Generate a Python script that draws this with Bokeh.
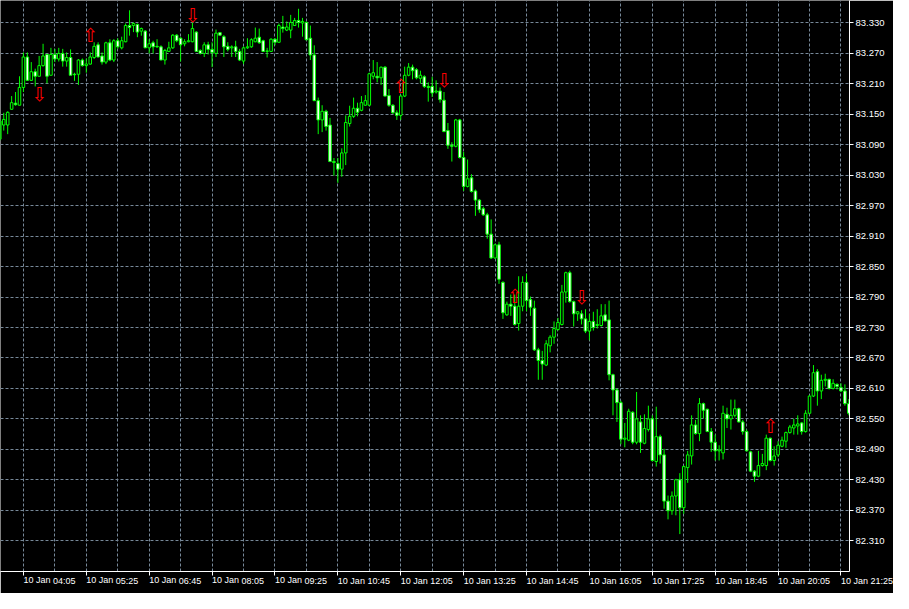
from bokeh.plotting import figure
from bokeh.models import Range1d, FixedTicker, ColumnDataSource, PrintfTickFormatter
from bokeh.core.properties import value
from bokeh.embed import file_html
from bokeh.resources import INLINE

# ---------------- data (5-minute bars, 10 Jan, first bar 03:35) ----------------
first_bar = "03:35"
bar_minutes = 5

opens = [83.101, 83.129, 83.129, 83.160, 83.172, 83.168,
         83.203, 83.263, 83.217, 83.234, 83.225, 83.246, 83.268, 83.227, 83.268, 83.259,
         83.270, 83.255, 83.262, 83.229, 83.229, 83.257, 83.246, 83.249, 83.262, 83.287,
         83.265, 83.253, 83.291, 83.257, 83.295, 83.281, 83.293, 83.325, 83.325, 83.327,
         83.314, 83.314, 83.281, 83.291, 83.284, 83.283, 83.257, 83.274, 83.281, 83.306,
         83.300, 83.289, 83.293, 83.293, 83.312, 83.276, 83.270, 83.287, 83.278, 83.270,
         83.311, 83.303, 83.284, 83.281, 83.283, 83.274, 83.255, 83.281, 83.283, 83.293,
         83.302, 83.295, 83.274, 83.274, 83.298, 83.292, 83.322, 83.316, 83.316, 83.325,
         83.335, 83.330, 83.331, 83.300, 83.267, 83.177, 83.139, 83.156, 83.129, 83.057,
         83.053, 83.042, 83.074, 83.132, 83.146, 83.162, 83.158, 83.168, 83.168, 83.225,
         83.225, 83.222, 83.243, 83.187, 83.168, 83.153, 83.148, 83.186, 83.227, 83.243,
         83.238, 83.221, 83.224, 83.205, 83.205, 83.194, 83.196, 83.178, 83.118, 83.089,
         83.087, 83.139, 83.065, 83.008, 83.025, 82.999, 82.981, 82.964, 82.952, 82.914,
         82.867, 82.893, 82.819, 82.755, 82.776, 82.772, 82.738, 82.772, 82.819, 82.785,
         82.768, 82.686, 82.665, 82.656, 82.694, 82.711, 82.726, 82.736, 82.800, 82.838,
         82.781, 82.757, 82.757, 82.747, 82.723, 82.742, 82.734, 82.734, 82.755, 82.745,
         82.637, 82.607, 82.582, 82.510, 82.508, 82.563, 82.504, 82.544, 82.502, 82.529,
         82.550, 82.466, 82.515, 82.479, 82.388, 82.369, 82.398, 82.430, 82.375, 82.454,
         82.477, 82.538, 82.521, 82.580, 82.569, 82.525, 82.504, 82.487, 82.483, 82.559,
         82.550, 82.557, 82.570, 82.544, 82.525, 82.485, 82.447, 82.437, 82.458, 82.458,
         82.512, 82.468, 82.479, 82.496, 82.506, 82.523, 82.532, 82.536, 82.542, 82.525,
         82.561, 82.595, 82.643, 82.605, 82.626, 82.628, 82.610, 82.618, 82.612, 82.605,
         82.580]

highs = [83.141, 83.153, 83.156, 83.186, 83.194, 83.225,
         83.272, 83.272, 83.253, 83.240, 83.265, 83.289, 83.269, 83.281, 83.279, 83.281,
         83.279, 83.272, 83.278, 83.232, 83.259, 83.260, 83.260, 83.272, 83.292, 83.292,
         83.272, 83.293, 83.298, 83.298, 83.300, 83.303, 83.329, 83.355, 83.331, 83.329,
         83.321, 83.316, 83.298, 83.295, 83.298, 83.286, 83.279, 83.293, 83.308, 83.308,
         83.302, 83.298, 83.308, 83.331, 83.314, 83.278, 83.292, 83.293, 83.292, 83.317,
         83.312, 83.306, 83.292, 83.286, 83.295, 83.279, 83.284, 83.300, 83.300, 83.321,
         83.319, 83.297, 83.281, 83.300, 83.300, 83.329, 83.344, 83.333, 83.346, 83.340,
         83.358, 83.340, 83.333, 83.325, 83.286, 83.183, 83.168, 83.159, 83.143, 83.064,
         83.064, 83.083, 83.148, 83.167, 83.183, 83.173, 83.186, 83.188, 83.232, 83.257,
         83.253, 83.244, 83.245, 83.200, 83.170, 83.158, 83.189, 83.244, 83.251, 83.248,
         83.241, 83.236, 83.227, 83.213, 83.224, 83.217, 83.203, 83.194, 83.133, 83.095,
         83.141, 83.141, 83.076, 83.061, 83.032, 83.002, 82.983, 82.968, 82.956, 82.943,
         82.895, 82.899, 82.821, 82.781, 82.795, 82.795, 82.831, 82.831, 82.836, 82.791,
         82.783, 82.690, 82.684, 82.705, 82.715, 82.742, 82.749, 82.814, 82.840, 82.842,
         82.783, 82.762, 82.764, 82.766, 82.757, 82.761, 82.766, 82.776, 82.776, 82.783,
         82.639, 82.610, 82.586, 82.542, 82.570, 82.565, 82.603, 82.557, 82.559, 82.576,
         82.557, 82.574, 82.519, 82.491, 82.399, 82.407, 82.432, 82.443, 82.458, 82.487,
         82.557, 82.548, 82.591, 82.582, 82.570, 82.532, 82.519, 82.498, 82.576, 82.572,
         82.588, 82.588, 82.572, 82.548, 82.529, 82.487, 82.449, 82.487, 82.481, 82.519,
         82.513, 82.496, 82.506, 82.515, 82.525, 82.538, 82.550, 82.557, 82.544, 82.567,
         82.597, 82.656, 82.648, 82.637, 82.639, 82.629, 82.628, 82.620, 82.620, 82.618,
         82.589]

lows = [83.098, 83.118, 83.111, 83.159, 83.167, 83.168,
        83.194, 83.216, 83.216, 83.205, 83.225, 83.244, 83.211, 83.227, 83.253, 83.254,
        83.244, 83.244, 83.227, 83.216, 83.208, 83.244, 83.232, 83.248, 83.259, 83.262,
        83.248, 83.249, 83.255, 83.253, 83.279, 83.278, 83.292, 83.305, 83.312, 83.302,
        83.305, 83.281, 83.270, 83.270, 83.281, 83.257, 83.248, 83.273, 83.279, 83.292,
        83.254, 83.284, 83.292, 83.292, 83.273, 83.268, 83.263, 83.268, 83.243, 83.263,
        83.305, 83.263, 83.274, 83.263, 83.263, 83.255, 83.249, 83.279, 83.281, 83.292,
        83.289, 83.273, 83.262, 83.273, 83.286, 83.291, 83.311, 83.314, 83.300, 83.324,
        83.321, 83.303, 83.296, 83.257, 83.176, 83.111, 83.115, 83.118, 83.056, 83.029,
        83.015, 83.027, 83.050, 83.126, 83.143, 83.146, 83.156, 83.167, 83.166, 83.219,
        83.213, 83.208, 83.185, 83.165, 83.151, 83.139, 83.139, 83.184, 83.225, 83.219,
        83.219, 83.211, 83.202, 83.175, 83.184, 83.191, 83.173, 83.115, 83.082, 83.057,
        83.085, 83.063, 82.999, 83.006, 82.996, 82.950, 82.956, 82.950, 82.905, 82.865,
        82.865, 82.816, 82.747, 82.753, 82.753, 82.734, 82.724, 82.762, 82.762, 82.753,
        82.684, 82.627, 82.627, 82.654, 82.681, 82.698, 82.724, 82.734, 82.779, 82.779,
        82.732, 82.743, 82.736, 82.719, 82.705, 82.724, 82.728, 82.732, 82.742, 82.626,
        82.557, 82.544, 82.500, 82.494, 82.506, 82.500, 82.500, 82.483, 82.500, 82.525,
        82.466, 82.456, 82.462, 82.373, 82.352, 82.361, 82.360, 82.323, 82.363, 82.424,
        82.460, 82.519, 82.506, 82.551, 82.524, 82.485, 82.468, 82.468, 82.470, 82.532,
        82.529, 82.553, 82.543, 82.519, 82.486, 82.445, 82.426, 82.435, 82.456, 82.449,
        82.466, 82.458, 82.475, 82.494, 82.493, 82.521, 82.519, 82.519, 82.519, 82.523,
        82.559, 82.593, 82.576, 82.589, 82.614, 82.608, 82.608, 82.608, 82.603, 82.576,
        82.557]

closes = [83.137, 83.140, 83.154, 83.173, 83.169, 83.203,
          83.263, 83.217, 83.234, 83.225, 83.246, 83.265, 83.225, 83.268, 83.259, 83.270,
          83.255, 83.262, 83.227, 83.228, 83.257, 83.246, 83.249, 83.263, 83.284, 83.263,
          83.253, 83.291, 83.257, 83.295, 83.283, 83.295, 83.325, 83.321, 83.329, 83.312,
          83.319, 83.281, 83.289, 83.283, 83.283, 83.257, 83.276, 83.281, 83.306, 83.295,
          83.287, 83.293, 83.295, 83.319, 83.274, 83.270, 83.287, 83.278, 83.272, 83.310,
          83.306, 83.283, 83.278, 83.283, 83.274, 83.257, 83.281, 83.283, 83.297, 83.300,
          83.291, 83.274, 83.275, 83.298, 83.292, 83.325, 83.319, 83.322, 83.331, 83.335,
          83.331, 83.333, 83.297, 83.267, 83.177, 83.139, 83.156, 83.126, 83.057, 83.055,
          83.042, 83.074, 83.134, 83.146, 83.162, 83.154, 83.173, 83.177, 83.230, 83.232,
          83.222, 83.243, 83.186, 83.168, 83.153, 83.148, 83.186, 83.227, 83.243, 83.236,
          83.222, 83.227, 83.205, 83.203, 83.192, 83.196, 83.179, 83.116, 83.089, 83.087,
          83.139, 83.065, 83.008, 83.023, 82.998, 82.981, 82.962, 82.952, 82.914, 82.867,
          82.893, 82.825, 82.759, 82.776, 82.772, 82.736, 82.772, 82.819, 82.783, 82.770,
          82.686, 82.665, 82.658, 82.698, 82.711, 82.728, 82.740, 82.800, 82.838, 82.781,
          82.757, 82.761, 82.747, 82.723, 82.742, 82.730, 82.736, 82.753, 82.743, 82.637,
          82.607, 82.582, 82.510, 82.512, 82.565, 82.504, 82.550, 82.504, 82.531, 82.550,
          82.468, 82.515, 82.479, 82.388, 82.369, 82.398, 82.430, 82.375, 82.456, 82.479,
          82.538, 82.521, 82.580, 82.567, 82.525, 82.504, 82.487, 82.489, 82.561, 82.550,
          82.557, 82.570, 82.544, 82.525, 82.487, 82.447, 82.437, 82.458, 82.462, 82.512,
          82.468, 82.477, 82.498, 82.508, 82.523, 82.534, 82.538, 82.540, 82.525, 82.561,
          82.595, 82.641, 82.605, 82.626, 82.628, 82.610, 82.620, 82.614, 82.605, 82.580,
          82.561]

x_tick_labels = ["10 Jan 04:05", "10 Jan 05:25", "10 Jan 06:45",
                 "10 Jan 08:05", "10 Jan 09:25", "10 Jan 10:45", "10 Jan 12:05",
                 "10 Jan 13:25", "10 Jan 14:45", "10 Jan 16:05", "10 Jan 17:25",
                 "10 Jan 18:45", "10 Jan 20:05", "10 Jan 21:25"]

y_ticks = [82.310, 82.370, 82.430, 82.490, 82.550, 82.610, 82.670, 82.730, 82.790,
           82.850, 82.910, 82.970, 83.030, 83.090, 83.150, 83.210, 83.270, 83.330]

arrow_times = ["04:25", "05:30", "07:40", "12:05", "13:00", "14:30", "15:55", "19:55"]
arrow_prices = [83.190, 83.306, 83.346, 83.205, 83.217, 82.793, 82.791, 82.536]
arrow_dirs = ["down", "up", "down", "up", "down", "up", "down", "up"]

view_start = "04:05"      # first labelled bar
view_bars_before = 5.83   # bars visible left of it
view_bars = 216           # bars across the chart
price_range = (82.2493, 83.3743)

# ---------------- helpers ----------------
def minutes(hhmm):
    h, m = hhmm.split(":")
    return int(h) * 60 + int(m)

def bar_pos(hhmm):
    return (minutes(hhmm) - minutes(first_bar)) / bar_minutes

n = len(opens)
xs = list(range(n))
tops = [max(o, c) for o, c in zip(opens, closes)]
bottoms = [min(o, c) for o, c in zip(opens, closes)]
fills = ["white" if c < o else "black" for o, c in zip(opens, closes)]

label_pos = [bar_pos(s.split(" ")[-1]) for s in x_tick_labels]
grid_pos = sorted(set(p + d for p in label_pos for d in (0, 8)))

x0 = bar_pos(view_start) - view_bars_before
x1 = x0 + view_bars

LIME = "#00ff00"
GRID = "#778899"
FONT = "Liberation Sans"

p = figure(width=893, height=593,
           x_range=Range1d(x0, x1), y_range=Range1d(*price_range),
           y_axis_location="right", output_backend="svg", toolbar_location=None,
           background_fill_color="black", border_fill_color="black",
           min_border_left=0, min_border_top=0, min_border_right=44, min_border_bottom=16)
p.outline_line_color = None

# grid
p.xgrid[0].ticker = FixedTicker(ticks=grid_pos)
for g in (p.xgrid[0], p.ygrid[0]):
    g.grid_line_color = GRID
    g.grid_line_dash = "3 2"
    g.grid_line_width = 1

# bottom time axis; a tiny negative orientation makes labels start at their tick
xa = p.xaxis[0]
xa.ticker = FixedTicker(ticks=label_pos)
xa.major_label_overrides = {lp: t for lp, t in zip(label_pos, x_tick_labels)}
xa.major_label_orientation = -1e-6
xa.major_label_standoff = 5
xa.major_tick_out = 4
xa.major_tick_in = 0
xa.minor_tick_out = 0
xa.minor_tick_in = 0
xa.axis_line_color = "white"
xa.major_tick_line_color = "white"
xa.major_label_text_color = "white"
xa.major_label_text_font = FONT
xa.major_label_text_font_size = "9px"

# right price axis
ya = p.yaxis[0]
ya.ticker = FixedTicker(ticks=y_ticks)
ya.formatter = PrintfTickFormatter(format="%.3f")
ya.major_tick_out = 4
ya.major_tick_in = 0
ya.minor_tick_out = 0
ya.minor_tick_in = 0
ya.axis_line_color = "white"
ya.major_tick_line_color = "white"
ya.major_label_text_color = "white"
ya.major_label_text_font = FONT
ya.major_label_text_font_size = "9.5px"
ya.major_label_standoff = 2

# candles
src = ColumnDataSource(dict(x=xs, h=highs, l=lows, top=tops, bottom=bottoms, fill=fills))
p.segment(x0="x", y0="h", x1="x", y1="l", line_color=LIME, line_width=1, source=src)
p.vbar(x="x", width=0.65, top="top", bottom="bottom", fill_color="fill",
       line_color=LIME, line_width=1, source=src)

# trade arrows
p.text(x=[bar_pos(t) for t in arrow_times], y=arrow_prices,
       text=["\u21e7" if d == "up" else "\u21e9" for d in arrow_dirs],
       text_color="red", text_font=value("DejaVu Sans"), text_font_size="19px",
       text_align="center", text_baseline="middle")

open("out.html", "w").write(file_html(p, INLINE))
